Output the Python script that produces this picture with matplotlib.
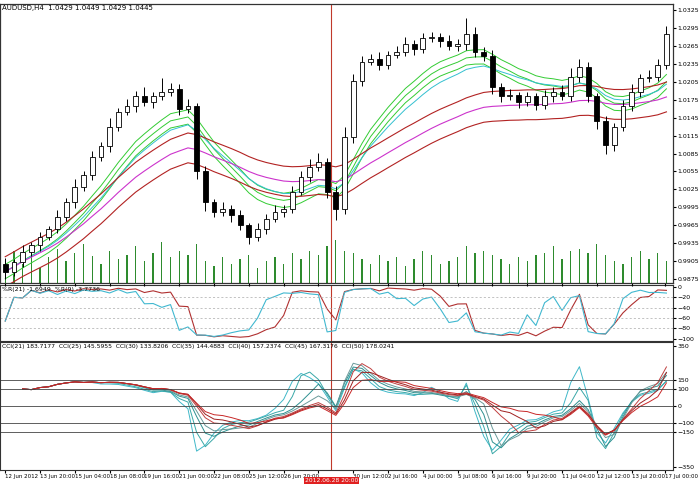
import numpy as np
import pandas as pd
import matplotlib
matplotlib.use("Agg")
import matplotlib.pyplot as plt

# AUDUSD H4 closes
closes = [0.9887, 0.9903, 0.9920, 0.9932, 0.9945, 0.9959, 0.9979, 1.0004, 1.0029, 1.0049,
          1.0080, 1.0097, 1.0130, 1.0155, 1.0164, 1.0181, 1.0172, 1.0181, 1.0189, 1.0194,
          1.0160, 1.0164, 1.0055, 1.0004, 0.9987, 0.9992, 0.9982, 0.9965, 0.9945, 0.9959,
          0.9976, 0.9987, 0.9992, 1.0021, 1.0046, 1.0063, 1.0071, 1.0021, 0.9992, 1.0113,
          1.0206, 1.0239, 1.0244, 1.0234, 1.0251, 1.0256, 1.0268, 1.0261, 1.0278, 1.0281,
          1.0273, 1.0265, 1.0268, 1.0285, 1.0256, 1.0248, 1.0197, 1.0181, 1.0184, 1.0172,
          1.0181, 1.0167, 1.0181, 1.0189, 1.0181, 1.0214, 1.0231, 1.0181, 1.0139, 1.0100,
          1.0130, 1.0164, 1.0189, 1.0211, 1.0214, 1.0234, 1.0285]
first_open = 0.9900
wick_up = [0.0010, 0.0006, 0.0012, 0.0004, 0.0009, 0.0005, 0.0011, 0.0007, 0.0013, 0.0006,
           0.0010, 0.0008, 0.0014, 0.0006, 0.0012, 0.0009, 0.0015, 0.0007, 0.0022, 0.0010,
           0.0008, 0.0012, 0.0006, 0.0009, 0.0005, 0.0011, 0.0006, 0.0008, 0.0004, 0.0010,
           0.0007, 0.0012, 0.0006, 0.0010, 0.0009, 0.0013, 0.0015, 0.0007, 0.0010, 0.0016,
           0.0012, 0.0010, 0.0008, 0.0011, 0.0006, 0.0009, 0.0012, 0.0007, 0.0010, 0.0008,
           0.0006, 0.0010, 0.0009, 0.0028, 0.0012, 0.0008, 0.0010, 0.0006, 0.0009, 0.0005,
           0.0008, 0.0006, 0.0010, 0.0007, 0.0011, 0.0014, 0.0012, 0.0008, 0.0006, 0.0009,
           0.0007, 0.0010, 0.0012, 0.0008, 0.0011, 0.0009, 0.0014]
wick_dn = [0.0012, 0.0007, 0.0009, 0.0006, 0.0010, 0.0005, 0.0008, 0.0007, 0.0011, 0.0006,
           0.0009, 0.0007, 0.0010, 0.0008, 0.0006, 0.0009, 0.0007, 0.0011, 0.0006, 0.0008,
           0.0010, 0.0007, 0.0012, 0.0015, 0.0009, 0.0006, 0.0011, 0.0008, 0.0012, 0.0007,
           0.0009, 0.0006, 0.0008, 0.0007, 0.0006, 0.0009, 0.0007, 0.0010, 0.0018, 0.0009,
           0.0010, 0.0008, 0.0006, 0.0009, 0.0007, 0.0006, 0.0008, 0.0010, 0.0007, 0.0006,
           0.0009, 0.0007, 0.0008, 0.0010, 0.0009, 0.0008, 0.0012, 0.0009, 0.0007, 0.0010,
           0.0008, 0.0009, 0.0007, 0.0010, 0.0006, 0.0008, 0.0009, 0.0010, 0.0012, 0.0015,
           0.0010, 0.0008, 0.0007, 0.0009, 0.0006, 0.0008, 0.0007]
volumes = [22, 30, 18, 26, 14, 24, 32, 20, 28, 36, 25, 18, 30, 22, 26, 34, 20, 28, 38, 24,
           30, 26, 36, 20, 16, 24, 18, 22, 26, 14, 20, 24, 18, 28, 22, 30, 26, 34, 40, 30,
           28, 22, 18, 26, 20, 24, 16, 22, 30, 26, 18, 20, 24, 34, 28, 30, 26, 22, 18, 24,
           20, 26, 28, 34, 22, 30, 32, 28, 36, 26, 20, 18, 24, 30, 22, 28, 20]
tick_idx = [0, 4, 8, 12, 16, 20, 24, 28, 32, 36, 40, 44, 48, 52, 56, 60, 64, 68, 72, 75.8]
tick_labels = ["12 Jun 2012", "13 Jun 20:00", "15 Jun 04:00", "18 Jun 08:00", "19 Jun 16:00",
               "21 Jun 00:00", "22 Jun 08:00", "25 Jun 12:00", "26 Jun 20:00", "",
               "30 Jun 12:00", "2 Jul 16:00", "4 Jul 00:00", "5 Jul 08:00", "6 Jul 16:00",
               "9 Jul 20:00", "11 Jul 04:00", "12 Jul 12:00", "13 Jul 20:00", "17 Jul 00:00"]
cursor_idx = 37.5
cursor_label = "2012.06.28 20:00"

c = np.array(closes)
o = np.concatenate([[first_open], c[:-1]])
h = np.maximum(o, c) + np.array(wick_up)
l = np.minimum(o, c) - np.array(wick_dn)
n = len(c)
x = np.arange(n)
cs = pd.Series(c)

fig = plt.figure(figsize=(7, 4.87), dpi=100)
W = 0.962
ax = fig.add_axes([0.0, 0.419, W, 0.573])
axr = fig.add_axes([0.0, 0.300, W, 0.115], sharex=ax)
axc = fig.add_axes([0.0, 0.035, W, 0.262], sharex=ax)

# volume bars
axv = ax.twinx()
axv.bar(x, volumes, width=0.15, color="#2e8b2e")
axv.set_ylim(0, 260)
axv.set_yticks([])
axv.set_zorder(0)
ax.set_zorder(1)
ax.patch.set_visible(False)

for a in (ax, axr, axc):
    a.yaxis.tick_right()
    a.tick_params(axis="y", labelsize=4.5, length=2, pad=1)
    a.tick_params(axis="x", length=2)
    for s in a.spines.values():
        s.set_linewidth(0.8)
        s.set_color("#333333")
    a.axvline(cursor_idx, color="#c0392b", lw=0.8)

# moving averages / envelopes
g = cs.ewm(span=12).mean()
cy = cs.ewm(span=16).mean()
m = cs.ewm(span=45).mean()
for off in (-0.0012, 0, 0.0012):
    ax.plot(x, g + off, color="#33cc33", lw=0.7)
ax.plot(x, cy, color="#33c0d0", lw=0.7)
ax.plot(x, m, color="#cc33cc", lw=0.8)
ax.plot(x, m + 0.0025, color="#b22222", lw=0.8)
ax.plot(x, m - 0.0025, color="#b22222", lw=0.8)

# candles
for i in range(n):
    ax.vlines(x[i], l[i], h[i], color="black", lw=0.7, zorder=3)
    bull = c[i] >= o[i]
    ax.bar(x[i], max(abs(c[i] - o[i]), 0.00008), bottom=min(o[i], c[i]), width=0.55,
           color="white" if bull else "black", edgecolor="black", lw=0.6, zorder=4)
ax.set_ylim(0.9868, 1.0336)
ax.set_yticks(np.arange(0.9875, 1.0326, 0.003))
ax.yaxis.set_major_formatter(matplotlib.ticker.FormatStrFormatter("%.4f"))
ax.set_xlim(-0.6, n - 0.2)
ax.text(0.003, 0.995, "AUDUSD,H4  1.0429 1.0449 1.0429 1.0445", transform=ax.transAxes,
        fontsize=5, va="top")
plt.setp(ax.get_xticklabels(), visible=False)
plt.setp(axr.get_xticklabels(), visible=False)

# Williams %R
def wpr(p):
    hh = pd.Series(h).rolling(p, min_periods=1).max()
    ll = pd.Series(l).rolling(p, min_periods=1).min()
    return -100 * (hh - cs) / (hh - ll)
axr.plot(x, wpr(10), color="#b03030", lw=0.8)
axr.plot(x, wpr(4), color="#40b8d0", lw=0.8)
for lv in (-20, -40, -60, -80):
    axr.axhline(lv, color="#aaaaaa", lw=0.5, ls=(0, (3, 3)))
axr.set_ylim(-104, 4)
axr.set_yticks([0, -20, -40, -60, -80, -100])
axr.text(0.003, 0.97, "%R(21) -1.6949  %R(9) -3.7736", transform=axr.transAxes,
         fontsize=4.5, va="top")

# CCI
tp = pd.Series((h + l + c) / 3)
def cci(p):
    ma = tp.rolling(p, min_periods=3).mean()
    md = tp.rolling(p, min_periods=3).apply(lambda v: np.mean(np.abs(v - v.mean())), raw=True)
    return (tp - ma) / (0.015 * md)
periods = [10, 12, 15, 17, 20, 22, 25]
colors = ["#40b8c8", "#3aa8a8", "#2e9090", "#6a9a9a", "#c04040", "#a02020", "#c82828"]
for p, col in zip(periods, colors):
    axc.plot(x, cci(p).clip(-340, 340), color=col, lw=0.7)
for lv in (150, 100, 0, -100, -150):
    axc.axhline(lv, color="#444444", lw=0.6)
axc.set_ylim(-370, 370)
axc.set_yticks([350, 150, 100, 0, -100, -150, -350])
axc.text(0.003, 0.985, "CCI(21) 183.7177  CCI(25) 145.5955  CCI(30) 133.8206  CCI(35) 144.4883  "
         "CCI(40) 157.2374  CCI(45) 167.3176  CCI(50) 178.0241", transform=axc.transAxes,
         fontsize=4.3, va="top")
axc.set_xticks(tick_idx)
axc.set_xticklabels(tick_labels, fontsize=4.0, ha="left")
axc.tick_params(axis="x", pad=1)
axc.text(cursor_idx, -0.06, cursor_label, transform=axc.get_xaxis_transform(), fontsize=4.3,
         color="white", ha="center", va="top",
         bbox=dict(boxstyle="square,pad=0.15", fc="#e02020", ec="none"))

fig.savefig("out.png", dpi=100)
